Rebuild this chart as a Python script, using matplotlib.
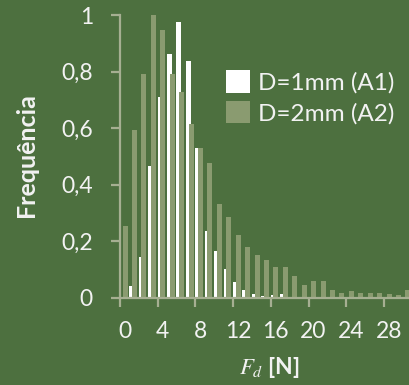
import numpy as np
import matplotlib
matplotlib.use("Agg")
import matplotlib.pyplot as plt
from matplotlib.patches import Patch

# Dados (frequência normalizada por classe de força, 1 N)
categorias = list(range(31))
freq_a1 = [0.0, 0.04, 0.145, 0.467, 0.71, 0.863, 0.974, 0.837, 0.53, 0.237,
           0.166, 0.103, 0.057, 0.026, 0.013, 0.007, 0.008, 0.012, 0.0, 0.0,
           0.0, 0.0, 0.0, 0.0, 0.0, 0.0, 0.0, 0.0, 0.0, 0.0, 0.0]
freq_a2 = [0.254, 0.594, 0.792, 1.0, 0.946, 0.792, 0.728, 0.613, 0.53, 0.478,
           0.332, 0.287, 0.223, 0.179, 0.152, 0.132, 0.11, 0.11, 0.077, 0.045,
           0.058, 0.058, 0.026, 0.018, 0.025, 0.018, 0.018, 0.018, 0.013, 0.008,
           0.027]
rotulos_x = ["0", "4", "8", "12", "16", "20", "24", "28"]
rotulos_y = ["0", "0,2", "0,4", "0,6", "0,8", "1"]
nomes = ["D=1mm (A1)", "D=2mm (A2)"]

fundo = "#4d703f"
cor_a2 = "#8a9b70"
cor_eixo = "#a6af92"
cor_texto = "#f2f2f2"

plt.rcParams["font.family"] = ["Lato", "DejaVu Sans"]
plt.rcParams["mathtext.fontset"] = "stix"

fig = plt.figure(figsize=(4.1, 3.85), dpi=100, facecolor=fundo)
ax = fig.add_axes([120 / 410, 87.3 / 385, 290 / 410, 282.7 / 385])
ax.set_facecolor(fundo)

x = np.array(categorias)
largura = 0.53
ax.bar(x - 0.255, freq_a1, width=largura, color="white", zorder=2)
ax.bar(x + 0.035, freq_a2, width=largura, color=cor_a2, zorder=3)

ax.set_xlim(-0.5, 30.25)
ax.set_ylim(0, 1)

for lado in ["top", "right"]:
    ax.spines[lado].set_visible(False)
for lado in ["left", "bottom"]:
    ax.spines[lado].set_color(cor_eixo)
    ax.spines[lado].set_linewidth(1.6)
    ax.spines[lado].set_zorder(4)

# eixo x: marcas entre categorias, rótulos no centro
ax.set_xticks(np.arange(0, 29, 4))
ax.set_xticklabels(rotulos_x)
ax.set_xticks(np.arange(-0.5, 28, 4), minor=True)
ax.tick_params(axis="x", which="major", length=0, pad=17, labelsize=16.5,
               labelcolor=cor_texto)
ax.tick_params(axis="x", which="minor", length=6.5, width=1.6, color=cor_eixo)

ax.set_yticks(np.linspace(0, 1, 6))
ax.set_yticklabels(rotulos_y)
ax.tick_params(axis="y", length=6.5, width=1.6, color=cor_eixo, pad=13,
               labelsize=16.5, labelcolor=cor_texto)

fig.text(27 / 410, 1 - 155 / 385, "Frequência", rotation=90, ha="center",
         va="center", fontsize=18, fontweight="bold", color=cor_texto)
fig.text(269 / 410, 1 - 368 / 385, r"$F_d$ [N]", ha="center", va="center",
         fontsize=16.5, fontweight="bold", color=cor_texto)

alcas = [Patch(facecolor="white"), Patch(facecolor=cor_a2)]
leg = ax.legend(alcas, nomes, loc="upper left",
                bbox_to_anchor=(226 / 410, 1 - 70 / 385),
                bbox_transform=fig.transFigure, frameon=False, fontsize=17.5,
                handlelength=1.0, handleheight=1.05, handletextpad=0.3,
                labelspacing=0.3, borderpad=0, borderaxespad=0)
for t in leg.get_texts():
    t.set_color(cor_texto)

fig.savefig("out.png", dpi=100, facecolor=fundo)
